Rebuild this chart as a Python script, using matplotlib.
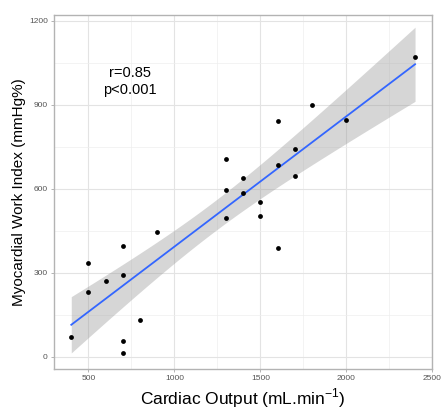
import numpy as np
import matplotlib
matplotlib.use("Agg")
import matplotlib.pyplot as plt
from matplotlib.ticker import MultipleLocator

# cardiac output (mL/min) vs myocardial work index (mmHg%)
cardiac_output = [400, 500, 500, 600, 700, 700, 700, 700, 800, 900,
                  1300, 1300, 1300, 1400, 1400, 1500, 1500, 1600, 1600, 1600,
                  1700, 1700, 1800, 2000, 2400]
work_index = [70, 232, 335, 271, 12, 56, 291, 395, 130, 446,
              494, 595, 707, 586, 638, 504, 551, 387, 685, 840,
              645, 743, 900, 845, 1070]

x = np.array(cardiac_output, dtype=float)
y = np.array(work_index, dtype=float)

# linear fit + 95% confidence band (like geom_smooth(method="lm"))
n = len(x)
slope, intercept = np.polyfit(x, y, 1)
resid = y - (slope * x + intercept)
s = np.sqrt(np.sum(resid ** 2) / (n - 2))
tcrit = 2.0687  # t(0.975, df=23)
xs = np.linspace(x.min(), x.max(), 100)
ys = slope * xs + intercept
se = s * np.sqrt(1 / n + (xs - x.mean()) ** 2 / np.sum((x - x.mean()) ** 2))

plt.rcParams['font.family'] = ['Liberation Sans', 'DejaVu Sans']

fig = plt.figure(figsize=(4.47, 4.20), dpi=100)
ax = fig.add_axes([0.121, 0.121, 0.846, 0.843])

ax.fill_between(xs, ys - tcrit * se, ys + tcrit * se, color='#999999', alpha=0.4,
                linewidth=0, zorder=2)
ax.plot(xs, ys, color='#3366FF', linewidth=1.3, zorder=3)
ax.scatter(x, y, s=12, color='black', zorder=4, linewidths=0)

ax.text(740, 982, "r=0.85\np<0.001", ha='center', va='center', fontsize=10.5,
        linespacing=1.3)

ax.set_xlim(300, 2500)
ax.set_ylim(-45, 1220)
ax.xaxis.set_major_locator(MultipleLocator(500))
ax.xaxis.set_minor_locator(MultipleLocator(250))
ax.yaxis.set_major_locator(MultipleLocator(300))
ax.yaxis.set_minor_locator(MultipleLocator(150))
ax.grid(which='major', color='#e3e3e3', linewidth=0.8, zorder=0)
ax.grid(which='minor', color='#eeeeee', linewidth=0.5, zorder=0)
ax.set_axisbelow(True)

for sp in ax.spines.values():
    sp.set_color('#b3b3b3')
    sp.set_linewidth(1.0)
ax.tick_params(which='major', length=2.5, width=0.7, color='#b3b3b3',
               labelsize=6, labelcolor='#555555', pad=2)
ax.tick_params(which='minor', length=0)

ax.set_xlabel(r'Cardiac Output (mL.min$^{\mathregular{-1}}$)', fontsize=12.5, labelpad=3)
ax.set_ylabel('Myocardial Work Index (mmHg%)', fontsize=11, labelpad=2)

fig.savefig('out.png', dpi=100)
